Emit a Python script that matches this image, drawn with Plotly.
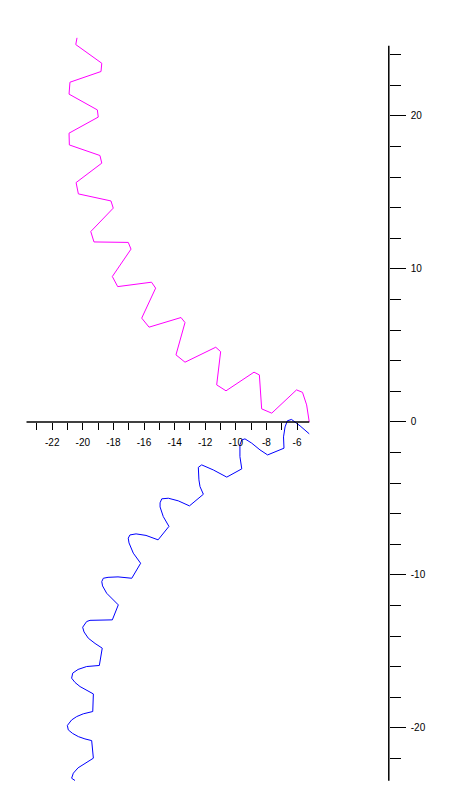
import plotly.graph_objects as go

# ---- data ----
magenta_x = [-20.38, -20.46, -18.76, -18.81, -20.84, -20.90, -19.05, -18.99, -20.90, -20.88,
             -18.88, -18.76, -20.44, -20.29, -18.16, -18.01, -19.48, -19.27, -17.03, -16.85,
             -18.07, -17.72, -15.51, -15.24, -16.15, -15.67, -13.58, -13.32, -13.91, -13.32,
             -11.31, -10.99, -11.25, -10.64, -8.81, -8.46, -8.31, -7.65, -6.03, -5.64,
             -5.37, -5.20]
magenta_y = [25.10, 24.66, 23.44, 22.90, 22.20, 21.42, 20.39, 19.92, 18.87, 18.10,
             17.41, 16.91, 15.64, 14.90, 14.44, 13.97, 12.44, 11.76, 11.73, 11.29,
             9.50, 8.84, 9.13, 8.74, 6.78, 6.19, 6.82, 6.49, 4.38, 3.90,
             4.88, 4.59, 2.42, 2.03, 3.25, 3.07, 0.85, 0.57, 2.09, 1.93,
             1.11, 0.00]

blue_x = [-5.20, -5.80, -6.36, -6.63, -6.78, -6.88, -6.85, -7.92, -8.42, -8.96,
          -9.40, -9.61, -9.73, -9.73, -9.61, -10.59, -11.47, -12.23, -12.45, -12.45,
          -12.41, -12.34, -12.12, -13.03, -13.76, -14.41, -14.84, -14.95, -14.95, -14.74,
          -14.37, -15.08, -15.87, -16.52, -16.92, -17.03, -16.98, -16.70, -16.22, -16.80,
          -17.70, -18.35, -18.66, -18.76, -18.71, -18.44, -18.09, -17.68, -18.07, -18.88,
          -19.53, -19.75, -20.01, -19.92, -19.64, -19.20, -18.73, -18.92, -19.75, -20.31,
          -20.66, -20.73, -20.51, -20.18, -19.76, -19.31, -19.35, -19.97, -20.40, -20.73,
          -21.01, -20.95, -20.67, -20.29, -19.86, -19.42, -19.31, -19.86, -20.31, -20.62,
          -20.73, -20.51]
blue_y = [-0.78, -0.26, 0.16, 0.07, -0.33, -0.98, -1.72, -2.16, -1.83, -1.39,
          -1.11, -1.18, -1.50, -2.27, -3.07, -3.61, -3.14, -2.81, -2.97, -3.27,
          -3.79, -4.23, -4.73, -5.49, -5.16, -4.99, -5.03, -5.29, -5.56, -6.19,
          -6.83, -7.71, -7.42, -7.32, -7.39, -7.60, -7.91, -8.58, -9.24, -10.22,
          -10.13, -10.16, -10.22, -10.44, -10.72, -11.20, -11.57, -11.96, -12.94, -12.94,
          -12.97, -13.05, -13.42, -13.73, -14.14, -14.48, -14.79, -15.92, -15.99, -16.18,
          -16.42, -16.75, -17.03, -17.30, -17.55, -17.78, -18.93, -19.08, -19.26, -19.48,
          -19.84, -20.13, -20.36, -20.57, -20.72, -20.83, -21.98, -22.31, -22.61, -22.96,
          -23.29, -23.44]

x_major_ticks = [-22, -20, -18, -16, -14, -12, -10, -8, -6]
x_minor_ticks = [-23, -21, -19, -17, -15, -13, -11, -9, -7]
y_major_ticks = [-20, -10, 0, 10, 20]
y_minor_ticks = [-22, -18, -16, -14, -12, -8, -6, -4, -2, 2, 4, 6, 8, 12, 14, 16, 18, 22, 24]

x_axis_span = [-23.68, -5.20]
y_axis_span = [-23.46, 24.58]

# page body has an 8px margin, so the figure is 8px smaller than the window
W, H = 453, 799
X_RANGE = [-24.89, 4.72]
Y_RANGE = [-25.17, 27.05]

fig = go.Figure()
fig.add_trace(go.Scatter(x=magenta_x, y=magenta_y, mode="lines",
                         line=dict(color="#ff00ff", width=1), showlegend=False,
                         hoverinfo="skip"))
fig.add_trace(go.Scatter(x=blue_x, y=blue_y, mode="lines",
                         line=dict(color="#0000ff", width=1), showlegend=False,
                         hoverinfo="skip"))

# axis lines through the origin, spanning the chart's extent
fig.add_shape(type="line", xref="x", yref="y", x0=x_axis_span[0], x1=x_axis_span[1],
              y0=0, y1=0, line=dict(color="black", width=1.5))
fig.add_shape(type="line", xref="x", yref="y", x0=0, x1=0,
              y0=y_axis_span[0], y1=y_axis_span[1], line=dict(color="black", width=1.5))

y0_frac = (0 - Y_RANGE[0]) / (Y_RANGE[1] - Y_RANGE[0])
x0_frac = (0 - X_RANGE[0]) / (X_RANGE[1] - X_RANGE[0])

tickfont = dict(family="Liberation Sans, Arial, sans-serif", size=10, color="black")

fig.update_layout(
    width=W, height=H, autosize=False,
    margin=dict(l=0, r=0, t=0, b=0),
    paper_bgcolor="white", plot_bgcolor="white",
    xaxis=dict(range=X_RANGE, domain=[0, 1], anchor="free", position=y0_frac,
               showgrid=False, zeroline=False, showline=False,
               tickmode="array", tickvals=x_major_ticks,
               ticktext=[str(v) for v in x_major_ticks],
               ticks="outside", ticklen=7, tickwidth=1.2, tickcolor="black",
               tickfont=tickfont, ticklabelstandoff=4,
               minor=dict(tickvals=x_minor_ticks, ticks="outside", ticklen=7,
                          tickwidth=1.2, tickcolor="black", showgrid=False)),
    yaxis=dict(range=Y_RANGE, domain=[0, 1], anchor="free", position=x0_frac,
               side="right",
               showgrid=False, zeroline=False, showline=False,
               tickmode="array", tickvals=y_major_ticks,
               ticktext=[str(v) for v in y_major_ticks],
               ticks="outside", ticklen=16, tickwidth=1.2, tickcolor="black",
               tickfont=tickfont, ticklabelstandoff=3,
               minor=dict(tickvals=y_minor_ticks, ticks="outside", ticklen=11,
                          tickwidth=1.2, tickcolor="black", showgrid=False)),
)

fig.write_html("out.html")
